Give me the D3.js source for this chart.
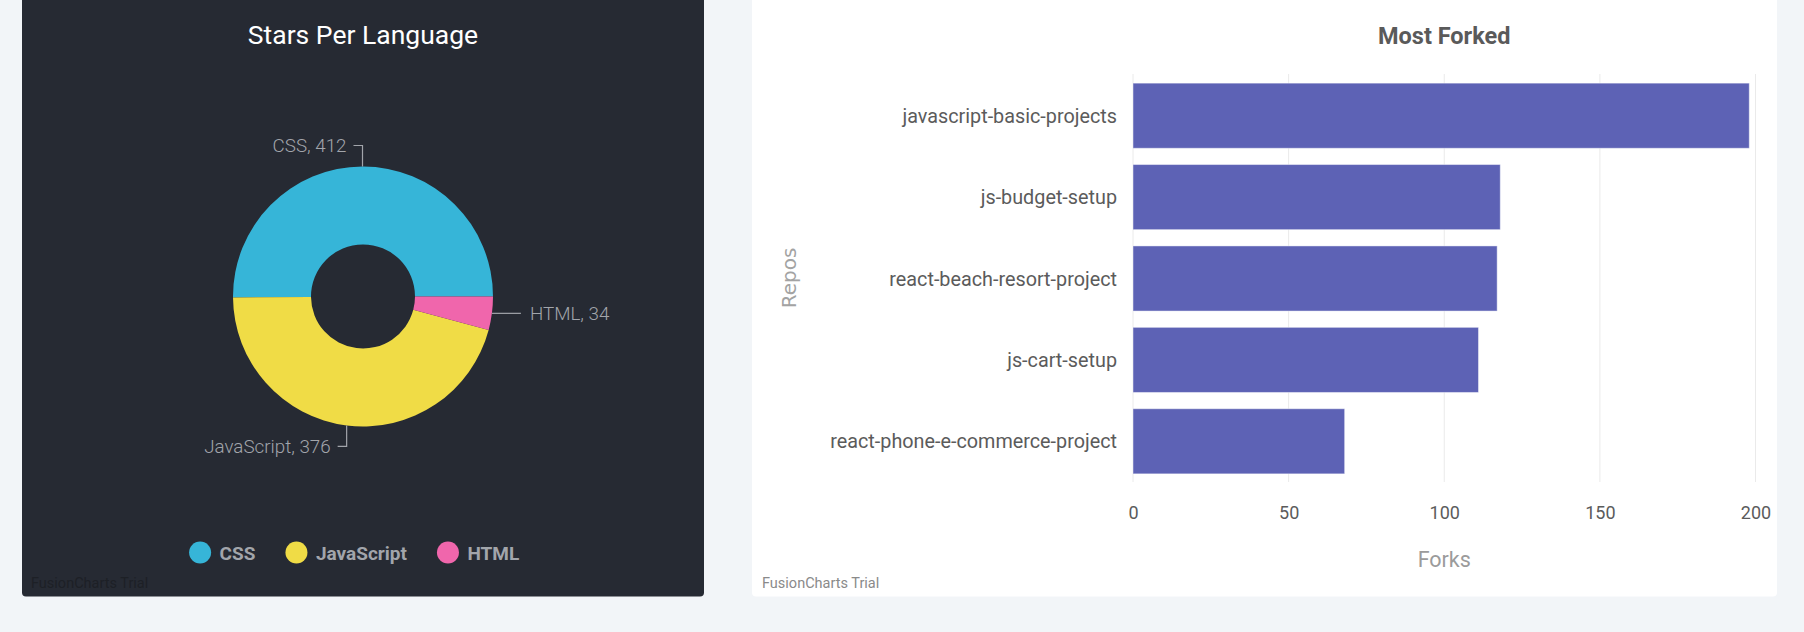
<!DOCTYPE html>
<html>
<head>
<meta charset="utf-8">
<script src="https://cdn.jsdelivr.net/npm/d3@7"></script>
<style>
  html, body { margin: 0; padding: 0; background: #f2f5f8; }
  svg { display: block; }
</style>
</head>
<body>
<svg id="chart" width="1804" height="632"></svg>
<script>
// ---- Data ----
const languages = ["CSS", "JavaScript", "HTML"];
const stars = [412, 376, 34];
const languageColors = ["#36B5D8", "#F0DC46", "#F066AC"];

const repos = [
  "javascript-basic-projects",
  "js-budget-setup",
  "react-beach-resort-project",
  "js-cart-setup",
  "react-phone-e-commerce-project"
];
const forks = [198, 118, 117, 111, 68];
const forkTicks = [0, 50, 100, 150, 200];

const pieTitle = "Stars Per Language";
const barTitle = "Most Forked";
const xAxisTitle = "Forks";
const yAxisTitle = "Repos";
const trialText = "FusionCharts Trial";

// ---- Setup ----
const svg = d3.select("#chart");
svg.append("rect").attr("width", 1804).attr("height", 632).attr("fill", "#f2f5f8");

// ================= Left card: doughnut =================
const leftCard = { x: 22, y: -8, w: 682, h: 604.5 };
svg.append("rect")
  .attr("x", leftCard.x).attr("y", leftCard.y)
  .attr("width", leftCard.w).attr("height", leftCard.h)
  .attr("rx", 4).attr("fill", "#262A33");

const LF = "Roboto, 'Noto Sans', sans-serif";

svg.append("text")
  .attr("x", 363).attr("y", 44)
  .attr("text-anchor", "middle")
  .attr("font-family", LF).attr("font-size", 26.5)
  .attr("fill", "#FFFFFF")
  .text(pieTitle);

const cx = 363, cy = 296.5, R = 130, r0 = 52;
const pieData = languages.map((l, i) => ({ label: l, value: stars[i], color: languageColors[i] }));
const pie = d3.pie().sort(null).value(d => d.value)
  .startAngle(Math.PI / 2).endAngle(Math.PI / 2 - 2 * Math.PI);
const arcs = pie(pieData);
const arc = d3.arc().innerRadius(r0).outerRadius(R);

const pg = svg.append("g").attr("transform", `translate(${cx},${cy})`);
pg.selectAll("path.slice").data(arcs).join("path")
  .attr("class", "slice")
  .attr("d", arc)
  .attr("fill", d => d.data.color);

// labels with connector lines
const labelColor = "#A2A5AB";
const lg = svg.append("g");
arcs.forEach(a => {
  const mid = (a.startAngle + a.endAngle) / 2;
  const s = Math.sin(mid), c = Math.cos(mid);
  const px = cx + R * s, py = cy - R * c;
  let pts, tx, ty, anchor;
  if (Math.abs(s) > 0.8) {
    const sx = s > 0 ? 1 : -1;
    pts = [[px, py], [px + sx * 29, py]];
    tx = px + sx * 38; ty = py; anchor = sx > 0 ? "start" : "end";
  } else {
    const sy = c > 0 ? -1 : 1;
    const sx = s > 0 ? 1 : -1;
    const vy = py + sy * 21;
    pts = [[px, py], [px, vy], [px + sx * 9, vy]];
    tx = px + sx * 16; ty = vy; anchor = sx > 0 ? "start" : "end";
  }
  lg.append("path")
    .attr("d", d3.line()(pts))
    .attr("fill", "none")
    .attr("stroke", labelColor)
    .attr("stroke-width", 1.2);
  lg.append("text")
    .attr("x", tx).attr("y", ty).attr("dy", "0.35em")
    .attr("text-anchor", anchor)
    .attr("font-family", LF).attr("font-weight", 300).attr("font-size", 18.8)
    .attr("fill", labelColor)
    .text(`${a.data.label}, ${a.data.value}`);
});

// legend
const legend = svg.append("g");
const items = legend.selectAll("g.item").data(pieData).join("g").attr("class", "item");
items.append("circle").attr("r", 11).attr("cy", 552.5).attr("fill", d => d.color);
items.append("text")
  .attr("y", 559.5)
  .attr("font-family", LF).attr("font-weight", 700).attr("font-size", 19)
  .attr("fill", "#A2A5AB")
  .text(d => d.label);
let lx = 0;
const positions = [];
items.each(function () {
  const w = d3.select(this).select("text").node().getComputedTextLength();
  positions.push(lx);
  lx += 30.5 + w + 30;
});
const totalW = lx - 30;
const lStart = 354.2 - totalW / 2;
items.each(function (d, i) {
  const g = d3.select(this);
  g.select("circle").attr("cx", lStart + positions[i] + 11);
  g.select("text").attr("x", lStart + positions[i] + 30.5);
});

svg.append("text")
  .attr("x", 31).attr("y", 588)
  .attr("font-family", LF).attr("font-size", 14.5)
  .attr("fill", "#1d2026")
  .text(trialText);

// ================= Right card: horizontal bars =================
const rightCard = { x: 752, y: -8, w: 1025, h: 604.5 };
svg.append("rect")
  .attr("x", rightCard.x).attr("y", rightCard.y)
  .attr("width", rightCard.w).attr("height", rightCard.h)
  .attr("rx", 4).attr("fill", "#FFFFFF");

const RF = "Roboto, 'Noto Sans', sans-serif";
const plot = { left: 1133, right: 1755.5, top: 74, bottom: 482 };

const x = d3.scaleLinear().domain([0, 200]).range([plot.left, plot.right]);
const y = d3.scaleBand().domain(repos).range([plot.top + 1, plot.bottom])
  .paddingInner(0.2).paddingOuter(0.1);

// gridlines
svg.append("g").selectAll("line.grid").data(forkTicks).join("line")
  .attr("class", "grid")
  .attr("x1", d => x(d)).attr("x2", d => x(d))
  .attr("y1", plot.top).attr("y2", plot.bottom)
  .attr("stroke", "#EAEAEA").attr("stroke-width", 1);

// bars
const barData = repos.map((name, i) => ({ name, value: forks[i] }));
svg.append("g").selectAll("rect.bar").data(barData).join("rect")
  .attr("class", "bar")
  .attr("x", x(0))
  .attr("y", d => y(d.name))
  .attr("width", d => x(d.value) - x(0))
  .attr("height", y.bandwidth())
  .attr("fill", "#5D62B5")
  .attr("stroke", "rgba(255,255,255,0.45)")
  .attr("stroke-width", 1);

// x axis ticks
const xAxis = svg.append("g")
  .attr("transform", `translate(0,${plot.bottom})`)
  .call(d3.axisBottom(x).tickValues(forkTicks).tickSize(0).tickPadding(24).tickFormat(d3.format("d")));
xAxis.select(".domain").remove();
xAxis.selectAll("text")
  .attr("font-family", RF).attr("font-size", 18).attr("fill", "#5B5B5B");

// y axis labels
const yAxis = svg.append("g")
  .attr("transform", `translate(${plot.left},0)`)
  .call(d3.axisLeft(y).tickSize(0).tickPadding(16));
yAxis.select(".domain").remove();
yAxis.selectAll("text")
  .attr("font-family", RF).attr("font-size", 19.8).attr("fill", "#5B5B5B")
  .attr("dy", "0.36em");

// titles
const pcx = (plot.left + plot.right) / 2;
svg.append("text")
  .attr("x", pcx).attr("y", 44.3)
  .attr("text-anchor", "middle")
  .attr("font-family", RF).attr("font-weight", 700).attr("font-size", 23.5)
  .attr("fill", "#5A5A5A")
  .text(barTitle);

svg.append("text")
  .attr("x", pcx).attr("y", 567)
  .attr("text-anchor", "middle")
  .attr("font-family", RF).attr("font-size", 21.5)
  .attr("fill", "#9B9B9B")
  .text(xAxisTitle);

svg.append("text")
  .attr("transform", `translate(795.5,${(plot.top + plot.bottom) / 2}) rotate(-90)`)
  .attr("text-anchor", "middle")
  .attr("font-family", "'DejaVu Sans', Verdana, sans-serif").attr("font-size", 20)
  .attr("fill", "#A3A3A3")
  .text(yAxisTitle);

svg.append("text")
  .attr("x", 762).attr("y", 588)
  .attr("font-family", RF).attr("font-size", 14.5)
  .attr("fill", "#8A8A8A")
  .text(trialText);
</script>
</body>
</html>
